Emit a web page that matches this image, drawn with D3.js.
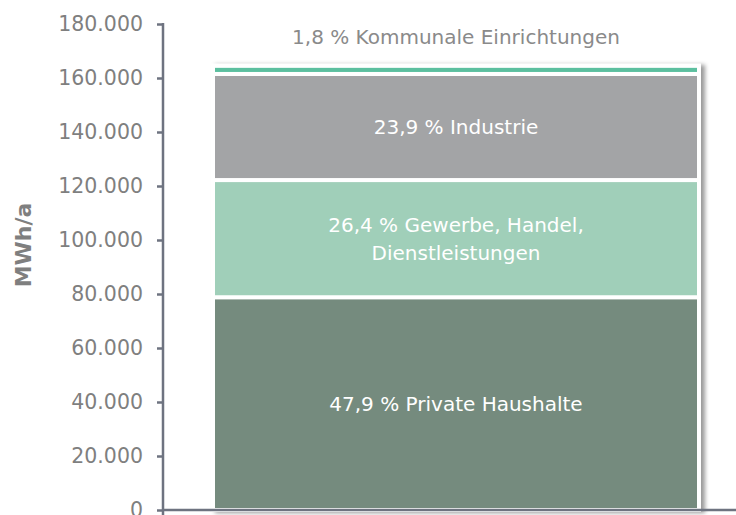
<!DOCTYPE html>
<html>
<head>
<meta charset="utf-8">
<script src="https://cdn.jsdelivr.net/npm/d3@7"></script>
<style>
  body { margin: 0; background: #fff; }
  text { font-family: "DejaVu Sans", sans-serif; }
</style>
</head>
<body>
<div id="chart-area"></div>
<script>
// data (MWh/a)
const category = ["Stromverbrauch"]
const sectors = ["Private Haushalte", "Gewerbe, Handel, Dienstleistungen", "Industrie", "Kommunale Einrichtungen"]
const values = [78800, 43400, 39300, 3000]
const shares = ["47,9", "26,4", "23,9", "1,8"]
const labelLines = [
  ["47,9 % Private Haushalte"],
  ["26,4 % Gewerbe, Handel,", "Dienstleistungen"],
  ["23,9 % Industrie"],
  ["1,8 % Kommunale Einrichtungen"]
]
const colors = ["#748b7e", "#a0cfb9", "#a3a4a6", "#5bbf9f"]
const yTicks = [0, 20000, 40000, 60000, 80000, 100000, 120000, 140000, 160000, 180000]

const WIDTH = 736
const HEIGHT = 515
const AXIS_X = 163
const AXIS_Y = 510

const de = d3.formatLocale({ decimal: ",", thousands: ".", grouping: [3], currency: ["", " €"] })
const fmt = de.format(",")

const svg = d3.select("#chart-area").append("svg")
  .attr("width", WIDTH)
  .attr("height", HEIGHT)

const defs = svg.append("defs")
defs.append("filter")
  .attr("id", "shadow")
  .attr("x", "-5%").attr("y", "-5%")
  .attr("width", "115%").attr("height", "115%")
  .append("feDropShadow")
    .attr("dx", 4).attr("dy", 1)
    .attr("stdDeviation", 2)
    .attr("flood-color", "#000")
    .attr("flood-opacity", 0.4)

const y = d3.scaleLinear()
  .domain([0, 180000])
  .range([AXIS_Y, 24])

const x = d3.scaleBand()
  .domain(category)
  .range([213, 699])
  .padding(0)

// stack the segments
let acc = 0
const stacked = values.map(function(v, i) {
  const d = { name: sectors[i], y0: acc, y1: acc + v, color: colors[i], lines: labelLines[i], share: shares[i] }
  acc += v
  return d
})

// bar
const bar = svg.append("g").attr("filter", "url(#shadow)")
bar.selectAll("rect")
  .data(stacked)
  .enter().append("rect")
    .attr("x", x(category[0]))
    .attr("width", x.bandwidth())
    .attr("y", function(d) { return y(d.y1) })
    .attr("height", function(d) { return y(d.y0) - y(d.y1) })
    .attr("fill", function(d) { return d.color })
    .attr("stroke", "#fff")
    .attr("stroke-width", 4)

// segment labels
const cx = x(category[0]) + x.bandwidth() / 2
stacked.forEach(function(d, i) {
  const outside = (y(d.y0) - y(d.y1)) < 30
  const lh = 28
  const n = d.lines.length
  const mid = outside ? 37 : (y(d.y0) + y(d.y1)) / 2
  const t = svg.append("text")
    .attr("x", cx)
    .attr("text-anchor", "middle")
    .attr("font-size", "20px")
    .attr("fill", outside ? "#8a8a8a" : "#fff")
  d.lines.forEach(function(line, j) {
    t.append("tspan")
      .attr("x", cx)
      .attr("y", mid + (j - (n - 1) / 2) * lh)
      .attr("dy", "0.35em")
      .text(line)
  })
})

// y axis
const yAxisCall = d3.axisLeft(y)
  .tickValues(yTicks)
  .tickSize(6)
  .tickPadding(14)
  .tickFormat(function(d) { return fmt(d) })
const yAxis = svg.append("g")
  .attr("class", "y axis")
  .attr("transform", "translate(" + AXIS_X + ",0)")
  .call(yAxisCall)
yAxis.select(".domain").remove()
yAxis.selectAll(".tick line").attr("stroke", "#6e7380").attr("stroke-width", 2.5)
yAxis.selectAll(".tick text")
  .attr("fill", "#7f7f7f")
  .attr("font-size", "20.5px")
  .attr("font-family", "DejaVu Sans, sans-serif")

// axis lines
svg.append("line")
  .attr("x1", AXIS_X).attr("x2", AXIS_X)
  .attr("y1", y(180000) - 1).attr("y2", HEIGHT + 2)
  .attr("stroke", "#6e7380").attr("stroke-width", 2.5)
svg.append("line")
  .attr("x1", AXIS_X).attr("x2", WIDTH)
  .attr("y1", AXIS_Y).attr("y2", AXIS_Y)
  .attr("stroke", "#6e7380").attr("stroke-width", 2.5)

// Y label
svg.append("text")
  .attr("transform", "translate(31,245) rotate(-90)")
  .attr("text-anchor", "middle")
  .attr("font-family", "Liberation Sans, Arial, sans-serif")
  .attr("font-weight", "bold")
  .attr("font-size", "22px")
  .attr("fill", "#7f7f7f")
  .text("MWh/a")
</script>
</body>
</html>
